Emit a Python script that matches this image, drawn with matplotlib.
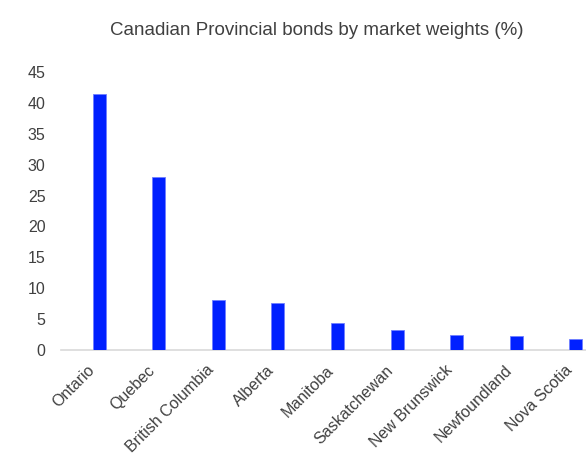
import matplotlib.pyplot as plt
import matplotlib.transforms as mtransforms
import numpy as np

provinces = ["Ontario", "Quebec", "British Columbia", "Alberta", "Manitoba",
             "Saskatchewan", "New Brunswick", "Newfoundland", "Nova Scotia"]
weights = [41.5, 28.0, 8.1, 7.6, 4.3, 3.3, 2.4, 2.2, 1.7]

plt.rcParams["font.family"] = ["Liberation Sans", "DejaVu Sans"]

fig = plt.figure(figsize=(5.86, 4.55), dpi=100)
ax = fig.add_axes([0.104, 0.2308, 0.896, 0.611])

x = np.arange(len(provinces))
ax.bar(x, weights, width=0.22, color="#0020ff", edgecolor="#6f7fff", linewidth=0.6, zorder=3)

ax.set_xlim(-0.64, 8.17)
ax.set_ylim(0, 45)
ax.set_yticks(range(0, 46, 5))
ax.set_xticks(x)
ax.set_xticklabels(provinces, rotation=45, ha="right", va="top", rotation_mode="anchor")

for side in ["top", "right", "left"]:
    ax.spines[side].set_visible(False)
ax.spines["bottom"].set_color("#d9d9d9")
ax.spines["bottom"].set_linewidth(1.2)
ax.tick_params(axis="both", length=0, labelsize=11.5, colors="#404040")
ax.tick_params(axis="y", pad=11)
ax.tick_params(axis="x", pad=9)

# nudge rotated labels left, like the source chart
shift = mtransforms.ScaledTranslation(-8.5 / 72, 0, fig.dpi_scale_trans)
for lab in ax.get_xticklabels():
    lab.set_transform(lab.get_transform() + shift)

fig.text(0.541, 0.934, "Canadian Provincial bonds by market weights (%)",
         ha="center", va="center", fontsize=13.5, color="#404040")

fig.savefig("out.png", dpi=100)
